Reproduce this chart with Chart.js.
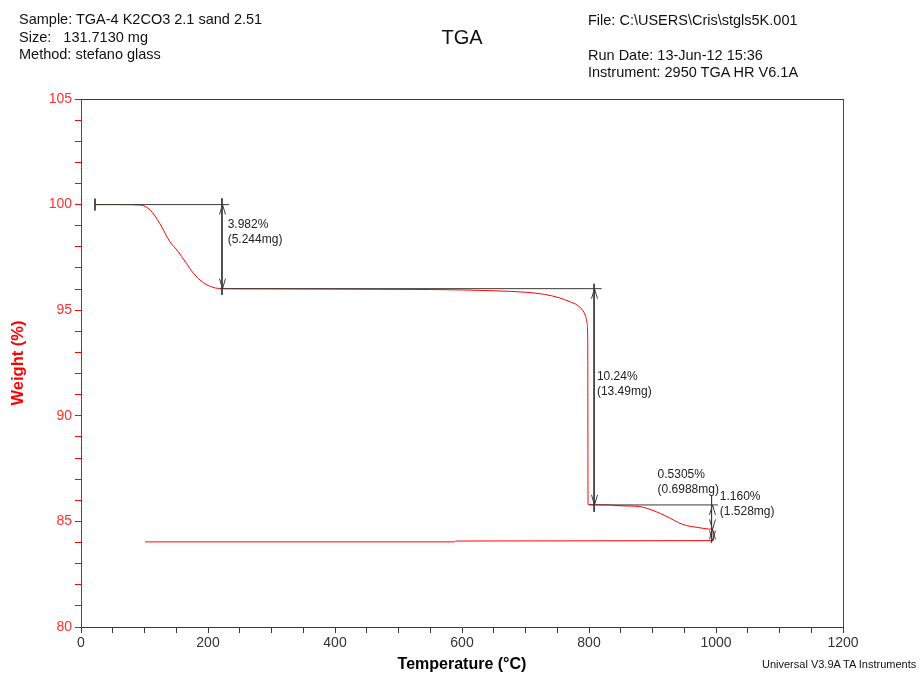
<!DOCTYPE html>
<html>
<head>
<meta charset="utf-8">
<script src="https://cdn.jsdelivr.net/npm/chart.js@4/dist/chart.umd.min.js"></script>
<style>
  html, body { margin: 0; padding: 0; background: #fff; }
  #wrap { position: relative; width: 923px; height: 674px; overflow: hidden; font-family: "Liberation Sans", Arial, sans-serif; }
  #c { position: absolute; left: 0; top: 0; }
  .t { position: absolute; white-space: pre; color: #111; font-size: 14.5px; line-height: 17px; }
</style>
</head>
<body>
<div id="wrap">
  <canvas id="c" width="923" height="674"></canvas>
  <div class="t" style="left:19px; top:11px;">Sample: TGA-4 K2CO3 2.1 sand 2.51</div>
  <div class="t" style="left:19px; top:29px;">Size:   131.7130 mg</div>
  <div class="t" style="left:19px; top:46px;">Method: stefano glass</div>
  <div class="t" style="left:0; width:924px; text-align:center; top:25px; font-size:20px; line-height:24px;">TGA</div>
  <div class="t" style="left:588px; top:12px;">File: C:\USERS\Cris\stgls5K.001</div>
  <div class="t" style="left:588px; top:47px;">Run Date: 13-Jun-12 15:36</div>
  <div class="t" style="left:588px; top:64px;">Instrument: 2950 TGA HR V6.1A</div>
  <div class="t" style="left:762px; top:657px; font-size:11px; line-height:14px;">Universal V3.9A TA Instruments</div>
</div>
<script>
// ---- data ----
const curveTemp   = [22, 60, 93, 109, 124, 140, 151, 166, 177, 193, 208, 222, 300, 400, 470, 550, 600, 650, 700, 730, 754, 770, 781, 790, 794, 797, 798, 798.5, 810, 830, 849, 880, 896, 912, 928, 941, 954, 970, 988, 993, 995, 996];
const curveWeight = [100.0, 100.0, 99.98, 99.74, 99.11, 98.24, 97.85, 97.22, 96.75, 96.30, 96.08, 96.02, 96.01, 96.0, 95.99, 95.98, 95.96, 95.92, 95.85, 95.75, 95.58, 95.40, 95.25, 95.00, 94.77, 94.40, 93.50, 85.80, 85.79, 85.78, 85.74, 85.70, 85.57, 85.38, 85.15, 84.94, 84.80, 84.72, 84.64, 84.63, 84.60, 84.09];
const returnTemp   = [996, 590, 588, 101];
const returnWeight = [84.09, 84.07, 84.03, 84.03];

// step analysis markers (data coordinates)
const markerLineTemp   = [[22, 233], [22, 22], [222, 222], [219, 820], [808, 808], [801, 1003], [993, 993]];
const markerLineWeight = [[100, 100], [100.28, 99.72], [100.3, 95.72], [96.02, 96.02], [96.25, 85.45], [85.78, 85.78], [86.25, 84.0]];
const arrowTemp   = [222, 222, 808, 808, 993, 993, 993, 993];
const arrowWeight = [100, 96.02, 96.02, 85.78, 85.78, 84.62, 84.62, 84.09];
const arrowDir    = ['up', 'down', 'up', 'down', 'up', 'down', 'up', 'down'];
const stepText    = [['3.982%', '(5.244mg)'], ['10.24%', '(13.49mg)'], ['0.5305%', '(0.6988mg)'], ['1.160%', '(1.528mg)']];
const stepTextTemp   = [231, 812.5, 908, 1006];
const stepTextWeight = [99.03, 91.85, 87.23, 86.17];

const xTickLabels = [0, 200, 400, 600, 800, 1000, 1200];
const yTickLabels = [80, 85, 90, 95, 100, 105];

const RED = '#ff0000';
const DARK = '#3a3a3a';
const FONT = '"Liberation Sans", Arial, sans-serif';

const toPts = (xs, ys) => xs.map((x, i) => ({x: x, y: ys[i]}));

const datasets = [];
markerLineTemp.forEach((xs, i) => {
  datasets.push({
    data: toPts(xs, markerLineWeight[i]),
    showLine: true, borderColor: DARK, borderWidth: 1, pointRadius: 0, order: 0
  });
});
datasets.push({ data: toPts(curveTemp, curveWeight), showLine: true, borderColor: RED, borderWidth: 1, pointRadius: 0, order: 1, cubicInterpolationMode: 'monotone' });
datasets.push({ data: toPts(returnTemp, returnWeight), showLine: true, borderColor: RED, borderWidth: 1, pointRadius: 0, order: 1 });

const framePlugin = {
  id: 'frame',
  afterDatasetsDraw(chart) {
    const {ctx, chartArea: a, scales: {x, y}} = chart;
    ctx.save();
    ctx.lineWidth = 1;
    ctx.strokeStyle = DARK;
    ctx.beginPath(); ctx.moveTo(a.left, a.top + 0.5); ctx.lineTo(a.right, a.top + 0.5); ctx.stroke();
    ctx.strokeStyle = RED;
    ctx.beginPath(); ctx.moveTo(a.right + 0.5, a.top); ctx.lineTo(a.right + 0.5, a.bottom); ctx.stroke();

    // arrowheads
    ctx.strokeStyle = DARK;
    arrowTemp.forEach((t, i) => {
      const px = Math.round(x.getPixelForValue(t)) + 0.5;
      const py = y.getPixelForValue(arrowWeight[i]);
      const d = arrowDir[i] === 'up' ? 1 : -1;
      ctx.beginPath();
      ctx.moveTo(px - 3, py + d * 10);
      ctx.lineTo(px, py);
      ctx.lineTo(px + 3, py + d * 10);
      ctx.stroke();
    });

    // step labels
    ctx.fillStyle = '#222';
    ctx.font = '12px ' + FONT;
    ctx.textBaseline = 'middle';
    ctx.textAlign = 'left';
    stepText.forEach((lines, i) => {
      const px = x.getPixelForValue(stepTextTemp[i]);
      const py = y.getPixelForValue(stepTextWeight[i]);
      lines.forEach((s, k) => ctx.fillText(s, px, py + k * 15));
    });
    ctx.restore();
  }
};

new Chart(document.getElementById('c'), {
  type: 'scatter',
  data: { datasets: datasets },
  options: {
    responsive: false,
    animation: false,
    devicePixelRatio: 1,
    layout: { padding: { top: 99, right: 80, left: 0, bottom: 0 } },
    plugins: { legend: { display: false }, tooltip: { enabled: false } },
    scales: {
      x: {
        type: 'linear', min: 0, max: 1200,
        afterFit(s) { s.height = 47; },
        ticks: {
          stepSize: 50, autoSkip: false, maxRotation: 0, padding: 2,
          color: '#333', font: { family: FONT, size: 14 },
          callback: (v) => xTickLabels.includes(v) ? String(v) : ''
        },
        grid: { drawOnChartArea: false, drawTicks: true, tickLength: 6, color: DARK },
        border: { color: DARK },
        title: { display: true, text: 'Temperature (°C)', color: '#000', font: { family: FONT, size: 16, weight: 'bold' }, padding: 0 }
      },
      y: {
        type: 'linear', min: 80, max: 105,
        afterFit(s) { s.width = 81; },
        ticks: {
          stepSize: 1, autoSkip: false, padding: 3,
          color: '#ff3030', font: { family: FONT, size: 14 },
          callback: (v) => yTickLabels.includes(v) ? String(v) : ''
        },
        grid: { drawOnChartArea: false, drawTicks: true, tickLength: 6, color: RED },
        border: { color: RED },
        title: { display: true, text: 'Weight (%)', color: RED, font: { family: FONT, size: 16.5, weight: 'bold' }, padding: { top: 9, bottom: 0 } }
      }
    }
  },
  plugins: [framePlugin]
});
</script>
</body>
</html>
